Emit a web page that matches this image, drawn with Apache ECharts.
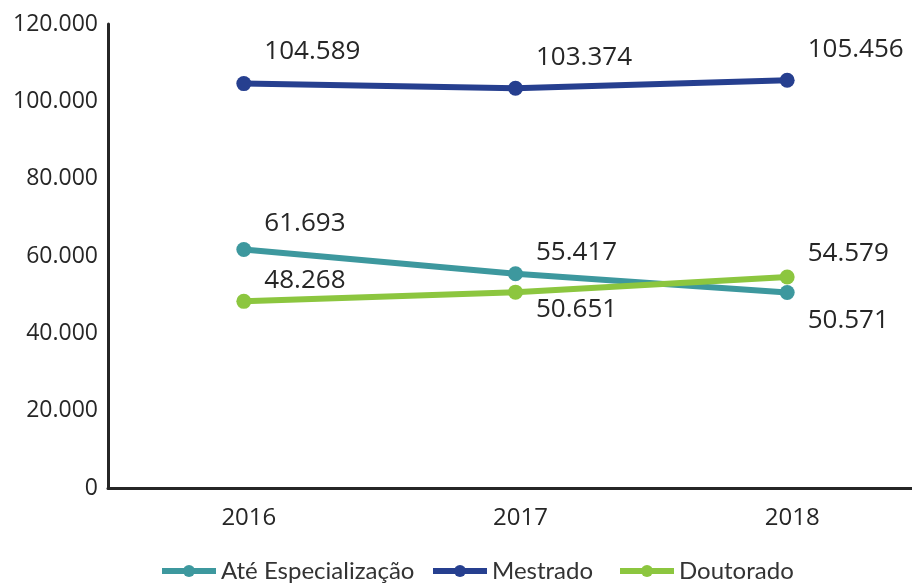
<!DOCTYPE html>
<html>
<head>
<meta charset="utf-8">
<script src="https://cdn.jsdelivr.net/npm/echarts@6/dist/echarts.min.js"></script>
<style>html,body{margin:0;padding:0;background:#fff}#c{width:912px;height:583px}</style>
</head>
<body>
<div id="c"></div>
<script>
const categories = ['2016', '2017', '2018'];
const seriesNames = ['Até Especialização', 'Mestrado', 'Doutorado'];
const ateEspecializacao = [61693, 55417, 50571];
const mestrado = [104589, 103374, 105456];
const doutorado = [48268, 50651, 54579];
const yTicks = [0, 20000, 40000, 60000, 80000, 100000, 120000];

function fmt(v) {
  return String(Math.round(v)).replace(/\B(?=(\d{3})+(?!\d))/g, '.');
}

const colors = ['#3d989e', '#263f8f', '#8cc63f'];
const values = [ateEspecializacao, mestrado, doutorado];
// vertical label offsets (px) per point
const labelDy = [[-26, -21, 28], [-32, -31, -31], [-21, 17, -23]];
const legendLeft = [154, 425, 612];

const chart = echarts.init(document.getElementById('c'), null, {renderer: 'canvas'});
chart.setOption({
  animation: false,
  color: colors,
  grid: {left: 108, right: -11, top: 24, bottom: 95, containLabel: false, outerBoundsMode: 'none'},
  legend: seriesNames.map((n, i) => ({
    bottom: -5,
    left: legendLeft[i],
    itemWidth: 54,
    itemHeight: 15,
    data: [n],
    lineStyle: {width: 6},
    textStyle: {fontFamily: 'Lato', fontSize: 24, color: '#333'}
  })),
  xAxis: {
    type: 'category',
    data: categories,
    boundaryGap: true,
    axisLine: {lineStyle: {color: '#262626', width: 3}},
    axisTick: {show: false},
    axisLabel: {fontFamily: 'Open Sans', fontSize: 24, color: '#262626', margin: 18, padding: [0, 0, 0, 10]},
    splitLine: {show: false}
  },
  yAxis: {
    type: 'value',
    min: yTicks[0],
    max: yTicks[yTicks.length - 1],
    interval: yTicks[1] - yTicks[0],
    axisLine: {show: true, lineStyle: {color: '#262626', width: 3}},
    axisTick: {show: false},
    splitLine: {show: false},
    axisLabel: {fontFamily: 'Open Sans', fontSize: 23, color: '#262626', margin: 10, formatter: fmt}
  },
  series: seriesNames.map((name, si) => ({
    name: name,
    type: 'line',
    symbol: 'circle',
    symbolSize: 15,
    lineStyle: {width: 6, color: colors[si]},
    itemStyle: {color: colors[si]},
    data: values[si].map((v, i) => ({
      value: v,
      label: {
        show: true,
        position: 'right',
        distance: 13,
        offset: [0, labelDy[si][i]],
        fontFamily: 'Open Sans',
        fontSize: 26,
        color: '#262626',
        formatter: p => fmt(p.value)
      }
    }))
  }))
});
</script>
</body>
</html>
